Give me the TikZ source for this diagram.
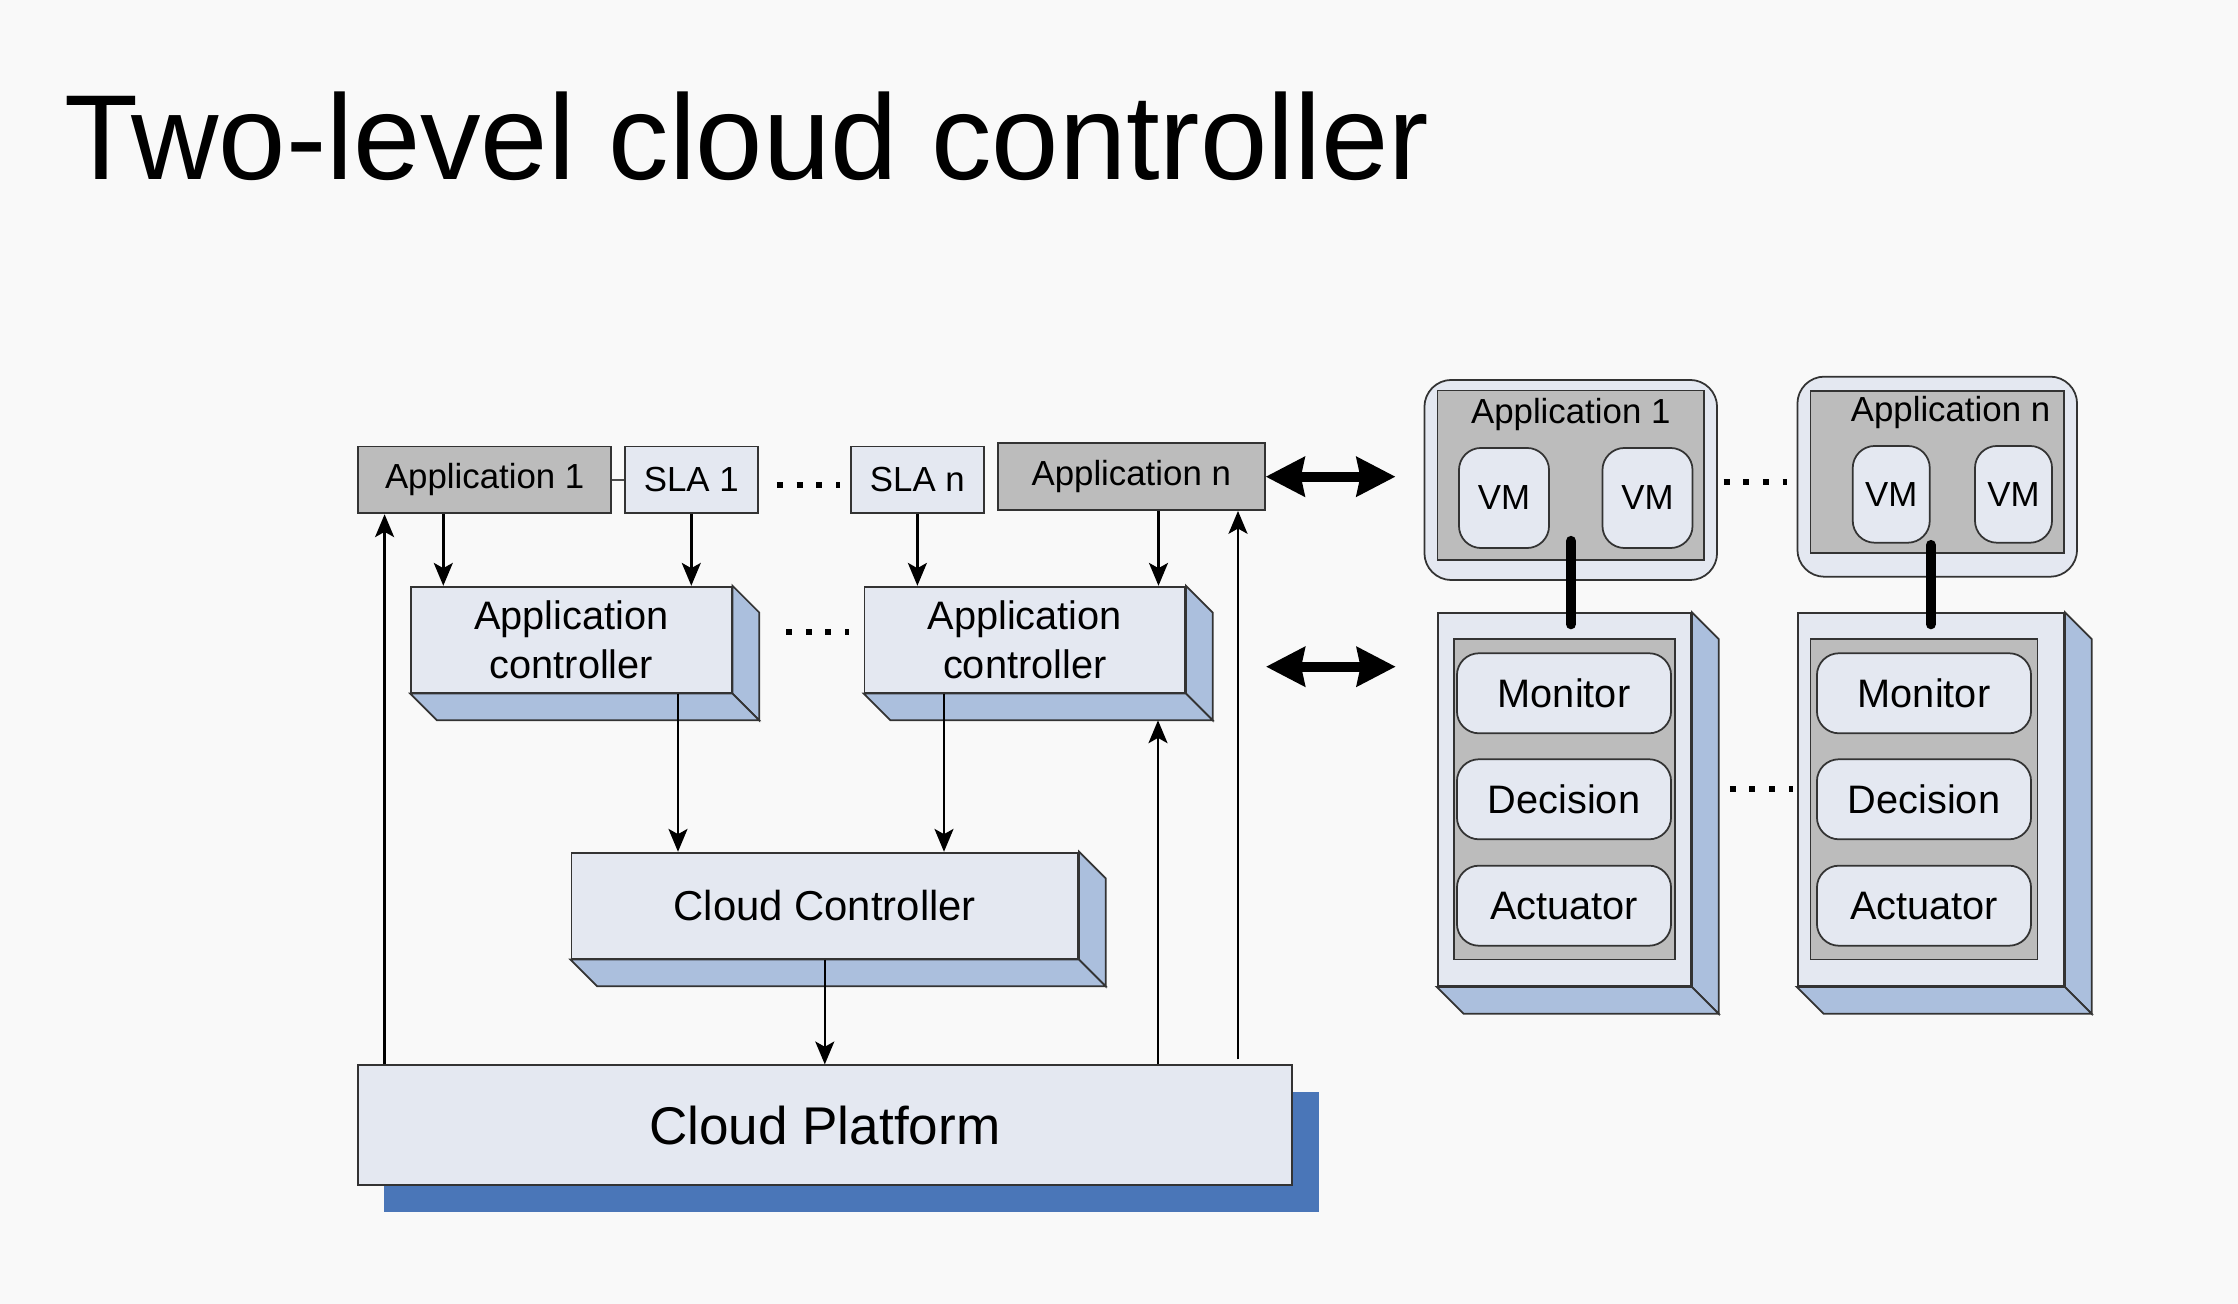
\documentclass[tikz,border=0pt]{standalone}
\usepackage{fontspec}
\setmainfont{Liberation Sans}
\usetikzlibrary{arrows.meta,shadows}

\definecolor{slide}{HTML}{F9F9F9}
\definecolor{pale}{HTML}{E4E8F1}
\definecolor{steel}{HTML}{ABBFDD}
\definecolor{stone}{HTML}{BCBCBC}
\definecolor{deep}{HTML}{4A76B8}

\begin{document}
\begin{tikzpicture}[x=0.01cm, y=-0.01cm, line width=0.7pt,
  >={Stealth[length=6.5pt,width=5.4pt,inset=1.5pt]},
  every box/.style={draw=black!80, line width=0.5pt, fill=pale, inner sep=0pt, align=center},
  side face/.style={draw=black!80, line width=0.5pt, fill=steel},
  soft box/.style={every box, rounded corners=0.22cm},
  small text/.style={font=\fontsize{9.9}{12}\selectfont},
  mid text/.style={font=\fontsize{11.3}{13.8}\selectfont},
  big arrow/.style={line width=2.85pt,
    {Stealth[length=11pt,width=11pt,inset=1pt]}-{Stealth[length=11pt,width=11pt,inset=1pt]}},
  link/.style={line width=2.85pt, line cap=round},
  dots/.style={line width=1.7pt, dash pattern=on 1.7pt off 3.9pt}]

\path [use as bounding box, fill=slide] (0,0) rectangle (2238,1304);

\node [anchor=base west, inner sep=0pt, font=\fontsize{34.4}{40}\selectfont] (title) at (63,180) {Two-level cloud controller};

% Applications and SLAs

\foreach \n/\x/\y/\w/\c/\t in {app-1/484.7/480/2.526cm/stone/Application 1,sla-1/691.3/480/1.332cm/pale/SLA 1,sla-n/917.4/480/1.332cm/pale/SLA n,app-n/1131.25/476.7/2.669cm/stone/Application n}
  \node [every box, fill=\c, small text, minimum width=\w, minimum height=0.667cm] (\n) at (\x,\y) {\t};

% Controllers

\foreach \m/\x in {1/571.4,n/1024.8}
  \node [every box, mid text, minimum width=3.203cm, minimum height=1.06cm] (ctrl-\m) at (\x,639.7) {Application\\controller};

\node [every box, font=\fontsize{11.9}{14}\selectfont, minimum width=5.065cm, minimum height=1.06cm] (cloudctrl) at (824.8,905.7) {Cloud Controller};

\node [every box, font=\fontsize{15.1}{18}\selectfont, minimum width=9.337cm, minimum height=1.2cm,
  drop shadow={shadow xshift=0.267cm, shadow yshift=-0.267cm, fill=deep, opacity=1}] (platform) at (824.75,1125.3) {Cloud Platform};

% Hosts with VMs

\foreach \m/\x/\y/\w in {1/1570.75/480/2.925cm,n/1937.25/476.7/2.795cm}
  \node [every box, rounded corners=0.27cm, minimum width=\w, minimum height=2cm] (host-\m) at (\x,\y) {};

\foreach \m/\x/\y/\w/\h in {1/1570.75/475.3/2.665cm/1.693cm,n/1937.25/471.85/2.535cm/1.623cm}
  \node [every box, fill=stone, minimum width=\w, minimum height=\h] (gray-\m) at (\x,\y) {};

\node [small text, anchor=base] (name-1) at (1570.75,423.3) {Application 1};
\node [small text, anchor=base] (name-n) at (1950.5,421.7) {Application n};

\foreach \m/\a/\b/\y/\w/\h in {1/1504/1647.5/498/0.9cm/1cm,n/1891.25/2013.5/494.35/0.77cm/0.967cm} {
  \node [soft box, small text, minimum width=\w, minimum height=\h] (vm-\m-a) at (\a,\y) {VM};
  \node [soft box, small text, minimum width=\w, minimum height=\h] (vm-\m-b) at (\b,\y) {VM};
}

% Local controllers

\foreach \m/\x/\w in {1/1564.35/2.533cm,n/1930.85/2.663cm}
  \node [every box, minimum width=\w, minimum height=3.727cm] (unit-\m) at (\x,799.65) {};

% Solid faces

\foreach \n in {ctrl-1,ctrl-n,cloudctrl,unit-1,unit-n} {
  \filldraw [side face] (\n.north east) -- ++(26.7,26.7) -- ([shift={(26.7,26.7)}]\n.south east) -- (\n.south east) -- cycle;
  \filldraw [side face] (\n.south west) -- ++(26.7,26.7) -- ([shift={(26.7,26.7)}]\n.south east) -- (\n.south east) -- cycle;
}

\foreach \m/\x/\w in {1/1564.3/2.206cm,n/1923.95/2.269cm}
  \node [every box, fill=stone, minimum width=\w, minimum height=3.2cm] (stack-\m) at (\x,799.3) {};

\foreach \m/\x in {1/1564,n/1924}
  \foreach \t/\y [count=\k] in {Monitor/693.3,Decision/799.3,Actuator/905.7}
    \node [soft box, mid text, minimum width=2.14cm, minimum height=0.8cm] (mod-\m-\k) at (\x,\y) {\t};

% Arrows

\draw [line width=0.5pt, black!70] (app-1) -- (sla-1);

\foreach \a/\b/\x in {app-1/ctrl-1/443.3,sla-1/ctrl-1/691.3,sla-n/ctrl-n/917.4,app-n/ctrl-n/1158.5,ctrl-1/cloudctrl/678,ctrl-n/cloudctrl/944,cloudctrl/platform/824.8}
  \draw [->] (\a.south -| \x,0) -- (\b.north -| \x,0);

\draw [->] (platform.north -| 384.6,0) -- (app-1.south -| 384.6,0);
\draw [->] (platform.north -| 1158,0) -- ([shift={(0,26.7)}]ctrl-n.south -| 1158,0);
\draw [->] ([shift={(0,-5)}]platform.north -| 1238,0) -- (app-n.south -| 1238,0);

\draw [big arrow, shorten >=0.28cm] (app-n.east) -- (app-n.east -| host-1.west);
\draw [big arrow, shorten <=0.8cm, shorten >=0.41cm] (ctrl-n.east |- 0,666.7) -- (unit-1.west |- 0,666.7);

\foreach \m/\dx/\dy in {1/6.6/-20,n/0/-9}
  \draw [link] ([shift={(\dx,\dy)}]gray-\m.south -| unit-\m.north) -- ([shift={(\dx,12)}]unit-\m.north);

% Dots

\draw [dots, shorten <=0.181cm, shorten >=0.098cm] ([shift={(0,5)}]sla-1.east) -- ([shift={(0,5)}]sla-n.west);
\draw [dots, shorten <=0.535cm, shorten >=0.146cm] ([shift={(0,-8)}]ctrl-1.east) -- ([shift={(0,-8)}]ctrl-n.west);
\draw [dots, shorten <=0.056cm, shorten >=0.099cm] ([shift={(0,1.7)}]host-1.east) -- ([shift={(0,1.7)}]host-1.east -| host-n.west);
\draw [dots, shorten <=0.378cm, shorten >=0.039cm] ([shift={(0,-10.4)}]unit-1.east) -- ([shift={(0,-10.4)}]unit-n.west);

\end{tikzpicture}
\end{document}
